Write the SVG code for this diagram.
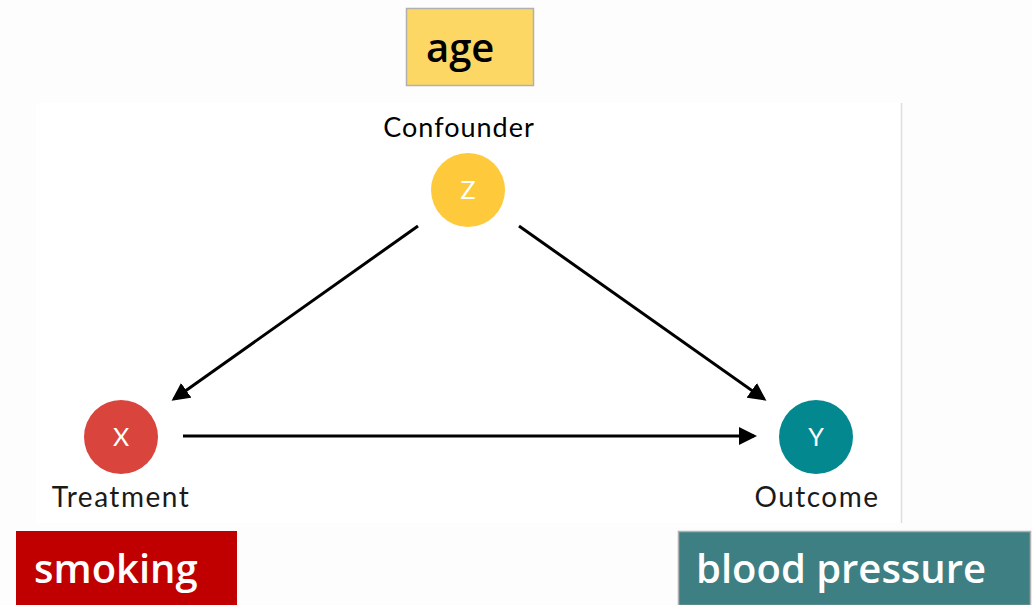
<svg xmlns="http://www.w3.org/2000/svg" width="1032" height="605" viewBox="0 0 1032 605">
<defs>
<marker id="ah" markerWidth="6" markerHeight="6" refX="5" refY="3" orient="auto" markerUnits="strokeWidth">
<path d="M0,0 L6,3 L0,6 Z" fill="#000"/>
</marker>
<style>
.lbl{font-family:Lato,"Open Sans",sans-serif;font-size:28px;fill:#1a1a1a;text-anchor:middle;letter-spacing:1.5px}
.conf{font-family:Lato,"Open Sans",sans-serif;font-size:27px;fill:#000;text-anchor:middle;letter-spacing:1px}
.nt{font-family:Lato,"Open Sans",sans-serif;font-size:25px;fill:#fff;text-anchor:middle}
.tag{font-family:"Open Sans",Lato,sans-serif;font-size:40px;font-weight:600;text-anchor:start}
.edge{stroke:#000;stroke-width:3;fill:none;marker-end:url(#ah)}
</style>
</defs>
<rect x="0" y="0" width="1032" height="605" fill="#fdfdfd"/>
<rect x="36" y="103" width="865" height="420" fill="#ffffff"/>
<line x1="901.5" y1="103" x2="901.5" y2="523" stroke="#dddddd" stroke-width="1.5"/>
<g id="connectors">
<line class="edge" x1="418" y1="226" x2="174" y2="399"/>
<line class="edge" x1="519" y1="226" x2="764" y2="399"/>
<line class="edge" x1="183" y1="436" x2="754" y2="436"/>
</g>
<g id="age">
<rect x="406.5" y="8.5" width="127" height="77" fill="#fdd764" stroke="#b0b0b0" stroke-width="1.5"/>
<text class="tag" x="426" y="62" fill="#000">age</text>
</g>
<g id="z">
<text class="conf" x="459" y="137">Confounder</text>
<circle cx="468" cy="190" r="37" fill="#ffc93c"/>
<text class="nt" x="468" y="199">Z</text>
</g>
<g id="x">
<circle cx="121" cy="437" r="37" fill="#d9453d"/>
<text class="nt" x="121" y="446">X</text>
<text class="lbl" x="121" y="507">Treatment</text>
</g>
<g id="y">
<circle cx="816" cy="437" r="37" fill="#03888f"/>
<text class="nt" x="816" y="446">Y</text>
<text class="lbl" x="817" y="507">Outcome</text>
</g>
<g id="smoking">
<rect x="16" y="531" width="221" height="74" fill="#c00000"/>
<text class="tag" x="34" y="583" fill="#fff">smoking</text>
</g>
<g id="bp">
<rect x="678.5" y="531.5" width="352" height="74" fill="#3e7f83" stroke="#b0b0b0" stroke-width="1.5"/>
<text class="tag" x="696" y="583" fill="#fff">blood pressure</text>
</g>
</svg>
